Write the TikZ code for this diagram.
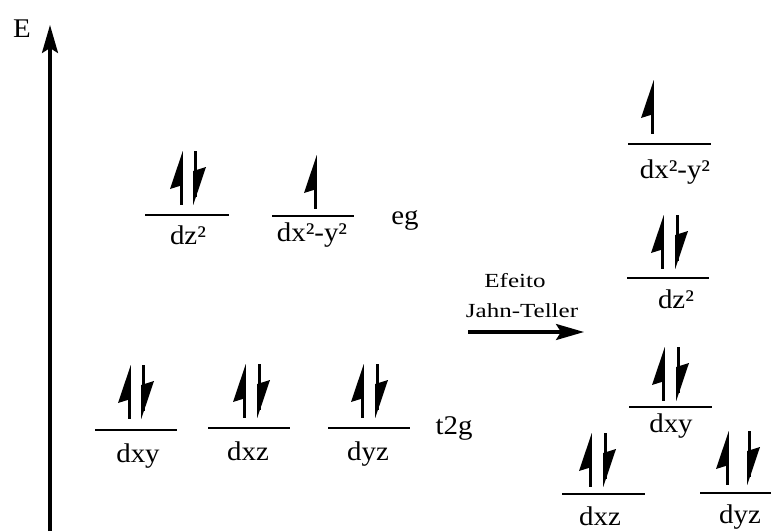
\documentclass[tikz,border=0pt]{standalone}
\usepackage{fontspec}
\setmainfont{Liberation Serif}
\usetikzlibrary{arrows.meta}
\tikzset{
  lvl/.style={line width=2.6pt},
  lbl/.style={anchor=base, inner sep=0pt, font=\fontsize{27}{31}\selectfont, xscale=1.07},
  effect/.style={anchor=base, inner sep=0pt, font=\fontsize{20}{23}\selectfont, xscale=1.25},
  bigarrow/.style={line width=3.2pt, -{Stealth[length=28pt,width=16pt,inset=5pt]}},
  spinup/.pic={
    \fill (1.8,0) -- (1.8,34) -- (-11,38) -- cycle;
    \draw[line width=3pt] (0,8) -- (0,54);
  },
  spindown/.pic={
    \fill (-1.8,54) -- (-1.8,20) -- (11,16) -- cycle;
    \draw[line width=3pt] (0,0) -- (0,46);
  }
}
\begin{document}
\begin{tikzpicture}[x=1pt,y=-1pt]
\useasboundingbox (0,0) rectangle (771,531);
% energy axis
\coordinate (axisbot) at (50,531);
\coordinate (axistop) at (50,25);
\draw[bigarrow] (axisbot) -- (axistop);
\node[lbl] (E) at (22,37) {E};

% left eg
\draw[lvl] (145,215) -- (229,215);
\pic at (181,151) {spinup};
\pic at (195,151) {spindown};
\node[lbl] (lz2) at (188,244) {dz²};
\draw[lvl] (272,216) -- (354,216);
\pic at (315,155) {spinup};
\node[lbl] (lx2) at (312,241) {dx²-y²};
\node[lbl] (eg) at (405,224) {eg};

% left t2g
\draw[lvl] (95,430) -- (177,430);
\pic at (129,365) {spinup};
\pic at (143,365) {spindown};
\node[lbl] (lxy) at (138,462) {dxy};
\draw[lvl] (208,428) -- (290,428);
\pic at (244,364) {spinup};
\pic at (259,364) {spindown};
\node[lbl] (lxz) at (248,460) {dxz};
\draw[lvl] (328,428) -- (410,428);
\pic at (362,364) {spinup};
\pic at (377,364) {spindown};
\node[lbl] (lyz) at (368,460) {dyz};
\node[lbl] (t2g) at (454,434) {t2g};

% Jahn-Teller arrow
\node[effect] (ef1) at (515,287) {Efeito};
\node[effect] (ef2) at (522,317) {Jahn-Teller};
\coordinate (jta) at (468,332);
\coordinate (jtb) at (584,332);
\draw[bigarrow] (jta) -- (jtb);

% right side
\draw[lvl] (628,144) -- (711,144);
\pic at (652,80) {spinup};
\node[lbl] (rx2) at (675,178) {dx²-y²};
\draw[lvl] (627,278) -- (709,278);
\pic at (662,215) {spinup};
\pic at (677,215) {spindown};
\node[lbl] (rz2) at (676,308) {dz²};
\draw[lvl] (629,407) -- (712,407);
\pic at (663,347) {spinup};
\pic at (678,347) {spindown};
\node[lbl] (rxy) at (671,432) {dxy};
\draw[lvl] (562,494) -- (645,494);
\pic at (590,433) {spinup};
\pic at (605,433) {spindown};
\node[lbl] (rxz) at (600,525) {dxz};
\draw[lvl] (700,493) -- (771,493);
\pic at (727,431) {spinup};
\pic at (749,431) {spindown};
\node[lbl] (ryz) at (740,523) {dyz};
\end{tikzpicture}
\end{document}
